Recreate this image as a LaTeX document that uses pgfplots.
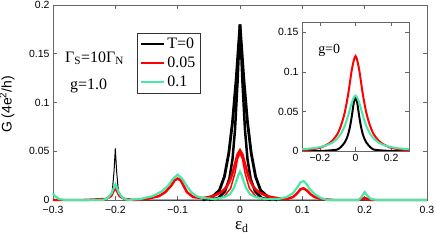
\documentclass[border=0pt]{standalone}
\usepackage{fontspec}
\setmainfont{Liberation Serif}
\setsansfont{Liberation Sans}
\usepackage{pgfplots}
\pgfplotsset{compat=1.18}
\definecolor{aqua}{RGB}{72,232,168}
\definecolor{frm}{gray}{0.4}
\pgfplotsset{
  myax/.style={
    scale only axis,
    tick align=inside,
    major tick length=4bp,
    axis line style={frm},
    tick style={frm, line width=0.5pt},
    ticklabel style={font=\sffamily\fontsize{10.5}{12}\selectfont},
    legend image code/.code={\draw[##1] (0bp,0bp) -- (23bp,0bp);},
  }
}
\begin{document}
\begin{tikzpicture}
\begin{axis}[myax,
  at={(0bp,0bp)}, anchor=south west,
  width=374bp, height=195bp,
  xmin=-0.3, xmax=0.3, ymin=0, ymax=0.2,
  xtick={-0.3,-0.2,-0.1,0,0.1,0.2,0.3},
  xticklabels={−0.3,−0.2,−0.1,0,0.1,0.2,0.3},
  xticklabel style={yshift=-2.5bp},
  ytick={0,0.05,0.1,0.15,0.2},
  yticklabels={0,0.05,0.1,0.15,0.2},
  clip=false,
  xlabel={ε\textsubscript{d}},
  ylabel={G (4e\textsuperscript{2}/h)},
  xlabel style={at={(axis description cs:0.505,-0.14)}, anchor=center, font=\fontsize{17}{19}\selectfont},
  ylabel style={at={(axis description cs:-0.123,0.49)}, anchor=center, font=\sffamily\fontsize{14}{16}\selectfont},
  legend style={at={(axis description cs:0.2246,0.855)}, anchor=north west, draw=black!80, fill=white,
    font=\fontsize{16}{18}\selectfont, inner sep=2.5bp, row sep=3bp, cells={anchor=west}},
]
% black thin (side spike)
\addplot[black, line width=1pt, forget plot] coordinates {
(-0.3,0) (-0.22,0) (-0.21,0.002) (-0.205,0.008) (-0.202,0.03) (-0.2,0.053) (-0.198,0.03) (-0.195,0.008) (-0.19,0.002) (-0.18,0) (-0.06,0)
(0.06,0) (0.3,0)};
% black wide center
\addplot[black, line width=2.8pt] coordinates {
(-0.06,0) (-0.045,0.003) (-0.033,0.01) (-0.025,0.024) (-0.018,0.048) (-0.012,0.08) (-0.006,0.125) (0,0.18)
(0.006,0.125) (0.012,0.08) (0.018,0.048) (0.025,0.024) (0.033,0.01) (0.045,0.003) (0.06,0)};
\addlegendentry{T=0}
% black narrow center
\addplot[black, line width=2.5pt, forget plot] coordinates {
(-0.05,0) (-0.035,0.002) (-0.024,0.009) (-0.017,0.022) (-0.012,0.042) (-0.008,0.072) (-0.004,0.12) (0,0.18)
(0.004,0.12) (0.008,0.072) (0.012,0.042) (0.017,0.022) (0.024,0.009) (0.035,0.002) (0.05,0)};
% red
\addplot[red, line width=2.5pt] coordinates {
(-0.3,0) (-0.25,0) (-0.215,0.001) (-0.207,0.004) (-0.203,0.009) (-0.2,0.013) (-0.197,0.009) (-0.193,0.004) (-0.185,0.001) (-0.17,0)
(-0.15,0.001) (-0.13,0.004) (-0.12,0.008) (-0.11,0.015) (-0.105,0.02) (-0.1,0.022) (-0.095,0.02) (-0.09,0.014) (-0.085,0.008) (-0.075,0.003)
(-0.06,0.002) (-0.05,0.003) (-0.04,0.0049) (-0.03,0.0081) (-0.025,0.0109) (-0.02,0.0151) (-0.016,0.0203) (-0.012,0.0275) (-0.008,0.037) (-0.004,0.0466) (0,0.051)
(0.004,0.0466) (0.008,0.037) (0.012,0.0275) (0.016,0.0203) (0.02,0.0151) (0.025,0.0109) (0.03,0.0081) (0.04,0.0049) (0.05,0.003) (0.06,0.002)
(0.075,0.001) (0.085,0.003) (0.092,0.007) (0.097,0.011) (0.102,0.012) (0.107,0.01) (0.113,0.006) (0.12,0.003) (0.13,0.001) (0.15,0)
(0.19,0) (0.2,0.002) (0.21,0) (0.3,0)};
\addlegendentry{0.05}
% red narrow center
\addplot[red, line width=1.5pt, forget plot] coordinates {
(-0.04,0) (-0.025,0.004) (-0.015,0.012) (-0.008,0.028) (-0.004,0.042) (0,0.048) (0.004,0.042) (0.008,0.028) (0.015,0.012) (0.025,0.004) (0.04,0)};
% green
\addplot[aqua, line width=2.2pt] coordinates {
(-0.3,0.007) (-0.297,0.004) (-0.29,0.001) (-0.28,0) (-0.22,0) (-0.212,0.002) (-0.206,0.007) (-0.202,0.013) (-0.2,0.016) (-0.198,0.013) (-0.194,0.007) (-0.188,0.002) (-0.18,0)
(-0.16,0.001) (-0.14,0.004) (-0.125,0.009) (-0.115,0.015) (-0.107,0.022) (-0.1,0.026) (-0.093,0.022) (-0.085,0.014) (-0.078,0.008) (-0.07,0.004) (-0.06,0.002)
(-0.04,0.001) (-0.025,0.003) (-0.016,0.006) (-0.01,0.012) (-0.006,0.019) (-0.003,0.025) (0,0.029)
(0.003,0.025) (0.006,0.019) (0.01,0.012) (0.016,0.006) (0.025,0.003) (0.04,0.001)
(0.06,0.001) (0.075,0.003) (0.085,0.007) (0.092,0.013) (0.097,0.018) (0.102,0.0195) (0.106,0.017) (0.112,0.011) (0.12,0.006) (0.13,0.002) (0.14,0)
(0.19,0) (0.195,0.003) (0.2,0.008) (0.205,0.004) (0.21,0.001) (0.22,0) (0.3,0)};
\addlegendentry{0.1}
\node[anchor=base west, font=\fontsize{16}{18}\selectfont, inner sep=0pt] at (axis cs:-0.2807,0.1415) {Γ\textsubscript{S}=10Γ\textsubscript{N}};
\node[anchor=base west, font=\fontsize{16}{18}\selectfont, inner sep=0pt] at (axis cs:-0.2727,0.1138) {g=1.0};
\end{axis}
\begin{axis}[myax,
  at={(249bp,49bp)}, anchor=south west,
  width=107bp, height=129bp,
  xmin=-0.3, xmax=0.3, ymin=0, ymax=0.163,
  xtick={-0.2,0,0.2}, xticklabels={−0.2,0,0.2},
  ytick={0,0.05,0.1,0.15}, yticklabels={0,0.05,0.1,0.15},
  axis background/.style={fill=white},
]
\addplot[black, line width=2pt, smooth] coordinates {
(-0.3,0) (-0.2,0) (-0.13,0.001) (-0.1,0.002) (-0.08,0.0055) (-0.06,0.011) (-0.05,0.0155) (-0.04,0.022) (-0.03,0.0317) (-0.02,0.045) (-0.01,0.0603) (0,0.068)
(0.01,0.0603) (0.02,0.045) (0.03,0.0317) (0.04,0.022) (0.05,0.0155) (0.06,0.011) (0.08,0.0055) (0.1,0.002) (0.13,0.001) (0.2,0) (0.3,0)};
\addplot[red, line width=2pt, smooth] coordinates {
(-0.3,0.001) (-0.25,0.002) (-0.2,0.004) (-0.16,0.008) (-0.13,0.013) (-0.1,0.022) (-0.08,0.033) (-0.06,0.049) (-0.04,0.0732) (-0.02,0.1034) (0,0.12)
(0.02,0.1034) (0.04,0.0732) (0.06,0.049) (0.08,0.033) (0.1,0.022) (0.13,0.013) (0.16,0.008) (0.2,0.004) (0.25,0.002) (0.3,0.001)};
\addplot[aqua, line width=2pt, smooth] coordinates {
(-0.3,0.0023) (-0.25,0.0032) (-0.2,0.0049) (-0.16,0.0074) (-0.13,0.0106) (-0.1,0.0163) (-0.08,0.0225) (-0.06,0.032) (-0.04,0.0458) (-0.02,0.0618) (0,0.07)
(0.02,0.0618) (0.04,0.0458) (0.06,0.032) (0.08,0.0225) (0.1,0.0163) (0.13,0.0106) (0.16,0.0074) (0.2,0.0049) (0.25,0.0032) (0.3,0.0023)};
\node[anchor=base west, font=\fontsize{14}{16}\selectfont, inner sep=0pt] at (axis cs:-0.21,0.1236) {g=0};
\end{axis}
\pgfresetboundingbox
\path (-53bp,-45bp) rectangle (383bp,200bp);
\end{tikzpicture}
\end{document}
